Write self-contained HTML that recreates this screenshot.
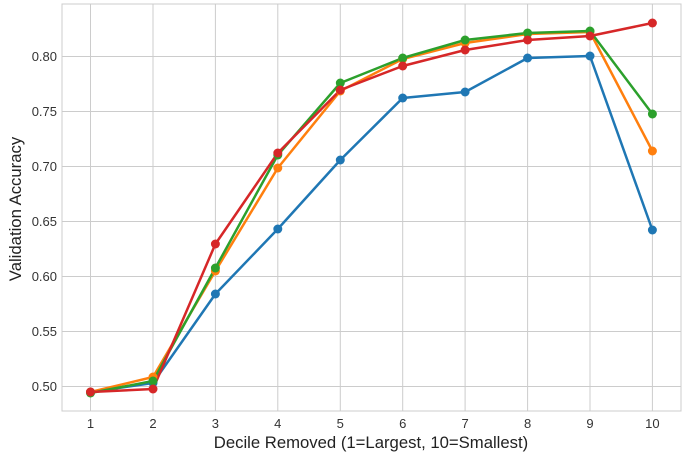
<!DOCTYPE html>
<html><head><style>body{margin:0;background:#fff}svg{display:block}</style></head><body>
<svg width="682" height="458" xmlns="http://www.w3.org/2000/svg" font-family="Liberation Sans, sans-serif">
<rect x="62" y="4" width="619" height="407" fill="#fff" stroke="#ccc" stroke-width="1"/>
<g stroke="#cccccc" stroke-width="1">
<line x1="90.5" y1="4" x2="90.5" y2="411"/><line x1="153" y1="4" x2="153" y2="411"/><line x1="215.4" y1="4" x2="215.4" y2="411"/><line x1="277.8" y1="4" x2="277.8" y2="411"/><line x1="340.3" y1="4" x2="340.3" y2="411"/><line x1="402.7" y1="4" x2="402.7" y2="411"/><line x1="465.1" y1="4" x2="465.1" y2="411"/><line x1="527.6" y1="4" x2="527.6" y2="411"/><line x1="590" y1="4" x2="590" y2="411"/><line x1="652.4" y1="4" x2="652.4" y2="411"/>
<line x1="62" y1="386.5" x2="681" y2="386.5"/><line x1="62" y1="331.5" x2="681" y2="331.5"/><line x1="62" y1="276.5" x2="681" y2="276.5"/><line x1="62" y1="221.5" x2="681" y2="221.5"/><line x1="62" y1="166.5" x2="681" y2="166.5"/><line x1="62" y1="111.5" x2="681" y2="111.5"/><line x1="62" y1="56.5" x2="681" y2="56.5"/>
</g>
<g font-size="13" fill="#333" text-anchor="end">
<text x="57" y="391">0.50</text><text x="57" y="336">0.55</text><text x="57" y="281">0.60</text><text x="57" y="226">0.65</text><text x="57" y="171">0.70</text><text x="57" y="116">0.75</text><text x="57" y="61">0.80</text>
</g>
<g font-size="13" fill="#333" text-anchor="middle">
<text x="90.5" y="428">1</text><text x="153" y="428">2</text><text x="215.4" y="428">3</text><text x="277.8" y="428">4</text><text x="340.3" y="428">5</text><text x="402.7" y="428">6</text><text x="465.1" y="428">7</text><text x="527.6" y="428">8</text><text x="590" y="428">9</text><text x="652.4" y="428">10</text>
</g>
<text x="371" y="448" font-size="16.7" fill="#222" text-anchor="middle">Decile Removed (1=Largest, 10=Smallest)</text>
<text transform="translate(21,209) rotate(-90)" font-size="16.7" fill="#222" text-anchor="middle">Validation Accuracy</text>
<g fill="none" stroke-width="2.5" stroke-linejoin="round">
<polyline stroke="#1f77b4" points="90.5,392 153,383 215.4,294 277.8,229 340.3,160 402.7,98 465.1,92 527.6,58 590,56 652.4,230"/>
<polyline stroke="#ff7f0e" points="90.5,392 153,377 215.4,271 277.8,168 340.3,91 402.7,59 465.1,43 527.6,34 590,32 652.4,151"/>
<polyline stroke="#2ca02c" points="90.5,393 153,381 215.4,268 277.8,155 340.3,83 402.7,58 465.1,40 527.6,33 590,31 652.4,114"/>
<polyline stroke="#d62728" points="90.5,392 153,389 215.4,244 277.8,153 340.3,90 402.7,66 465.1,50 527.6,40 590,36 652.4,23"/>
</g>
<g fill="#1f77b4"><circle cx="90.5" cy="392" r="4.5"/><circle cx="153" cy="383" r="4.5"/><circle cx="215.4" cy="294" r="4.5"/><circle cx="277.8" cy="229" r="4.5"/><circle cx="340.3" cy="160" r="4.5"/><circle cx="402.7" cy="98" r="4.5"/><circle cx="465.1" cy="92" r="4.5"/><circle cx="527.6" cy="58" r="4.5"/><circle cx="590" cy="56" r="4.5"/><circle cx="652.4" cy="230" r="4.5"/></g>
<g fill="#ff7f0e"><circle cx="90.5" cy="392" r="4.5"/><circle cx="153" cy="377" r="4.5"/><circle cx="215.4" cy="271" r="4.5"/><circle cx="277.8" cy="168" r="4.5"/><circle cx="340.3" cy="91" r="4.5"/><circle cx="402.7" cy="59" r="4.5"/><circle cx="465.1" cy="43" r="4.5"/><circle cx="527.6" cy="34" r="4.5"/><circle cx="590" cy="32" r="4.5"/><circle cx="652.4" cy="151" r="4.5"/></g>
<g fill="#2ca02c"><circle cx="90.5" cy="393" r="4.5"/><circle cx="153" cy="381" r="4.5"/><circle cx="215.4" cy="268" r="4.5"/><circle cx="277.8" cy="155" r="4.5"/><circle cx="340.3" cy="83" r="4.5"/><circle cx="402.7" cy="58" r="4.5"/><circle cx="465.1" cy="40" r="4.5"/><circle cx="527.6" cy="33" r="4.5"/><circle cx="590" cy="31" r="4.5"/><circle cx="652.4" cy="114" r="4.5"/></g>
<g fill="#d62728"><circle cx="90.5" cy="392" r="4.5"/><circle cx="153" cy="389" r="4.5"/><circle cx="215.4" cy="244" r="4.5"/><circle cx="277.8" cy="153" r="4.5"/><circle cx="340.3" cy="90" r="4.5"/><circle cx="402.7" cy="66" r="4.5"/><circle cx="465.1" cy="50" r="4.5"/><circle cx="527.6" cy="40" r="4.5"/><circle cx="590" cy="36" r="4.5"/><circle cx="652.4" cy="23" r="4.5"/></g>
</svg>
</body></html>
